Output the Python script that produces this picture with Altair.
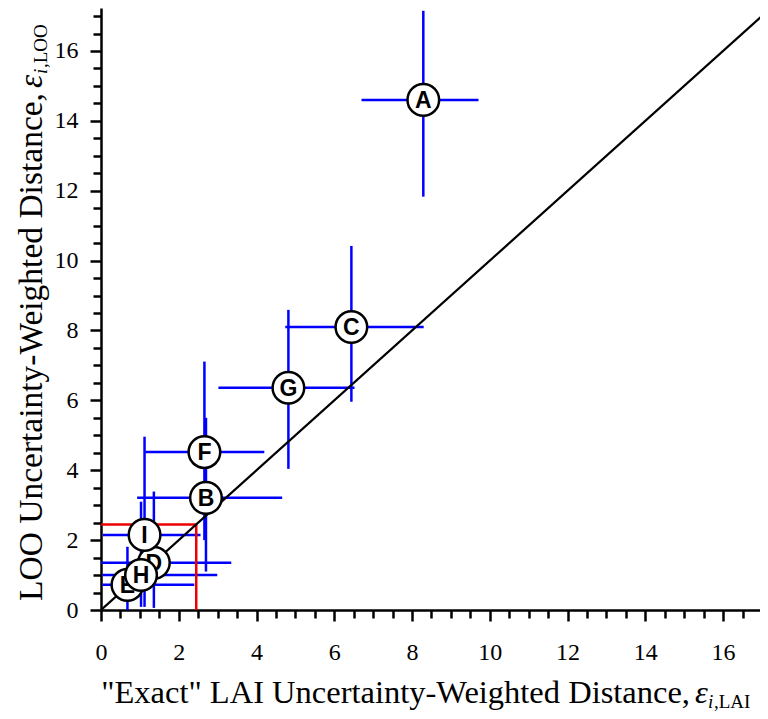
import altair as alt
import pandas as pd

# ---- data ----
labels = ["A", "B", "C", "D", "E", "F", "G", "H", "I"]
lai = [8.29, 2.70, 6.44, 1.36, 0.68, 2.66, 4.82, 1.03, 1.12]
loo = [14.60, 3.21, 8.10, 1.35, 0.72, 4.52, 6.36, 1.00, 2.15]
lai_lo = [6.70, 0.93, 4.74, 0.00, 0.04, 1.14, 3.02, 0.04, 0.05]
lai_hi = [9.71, 4.66, 8.30, 3.35, 2.40, 4.20, 6.52, 2.99, 2.56]
loo_lo = [11.83, 1.10, 5.96, 0.06, 0.00, 2.00, 4.04, 0.09, 0.09]
loo_hi = [17.15, 5.50, 10.42, 3.39, 1.81, 7.11, 8.59, 3.10, 4.96]
threshold = 2.45
diag = [0.0, 17.2]
tick_values = [i * 0.5 for i in range(0, 35)]

x_title_main = '"Exact" LAI Uncertainty-Weighted Distance,'
y_title_main = "LOO Uncertainty-Weighted Distance,"

df = pd.DataFrame({"label": labels, "lai": lai, "loo": loo,
                   "lai_lo": lai_lo, "lai_hi": lai_hi,
                   "loo_lo": loo_lo, "loo_hi": loo_hi})

PL = 93
W, H = 659, 602
XD, YD = [0, 16.95], [0, 17.23]

cond_tick = {"condition": {"test": "datum.value % 2 === 0", "value": 11}, "value": 8}
common_axis = dict(values=tick_values, grid=False, domainColor="black", domainWidth=2.5,
                   tickColor="black", tickWidth=2.5, tickSize=cond_tick, format=".0f",
                   labelExpr="datum.value % 2 === 0 ? datum.label : ''",
                   labelFont="Liberation Serif", labelFontSize=24, labelColor="black",
                   labelOverlap=False, labelFlush=False, title=None)

xs = alt.Scale(domain=XD, nice=False, zero=False)
ys = alt.Scale(domain=YD, nice=False, zero=False)
xax = alt.Axis(labelPadding=19, **common_axis)
yax = alt.Axis(labelPadding=12, **common_axis)

def X(f):
    return alt.X(f, scale=xs, axis=xax)

def Y(f):
    return alt.Y(f, scale=ys, axis=yax)

base = alt.Chart(df)

hbars = base.mark_rule(color="#0000ff", strokeWidth=2.5).encode(
    x=X("lai_lo:Q"), x2="lai_hi:Q", y=Y("loo:Q"))
vbars = base.mark_rule(color="#0000ff", strokeWidth=2.5).encode(
    x=X("lai:Q"), y=Y("loo_lo:Q"), y2="loo_hi:Q")

tdf = pd.DataFrame({"z": [0.0], "t": [threshold]})
red_h = alt.Chart(tdf).mark_rule(color="#ee0000", strokeWidth=2.5).encode(
    x=X("z:Q"), x2="t:Q", y=Y("t:Q"))
red_v = alt.Chart(tdf).mark_rule(color="#ee0000", strokeWidth=2.5).encode(
    x=X("t:Q"), y=Y("z:Q"), y2="t:Q")

ddf = pd.DataFrame({"v": diag})
diag_line = alt.Chart(ddf).mark_line(color="black", strokeWidth=2.2, clip=True).encode(
    x=X("v:Q"), y=Y("v:Q"))

layers = [hbars, vbars, red_h, red_v, diag_line]
for lab in labels:
    sub = base.transform_filter(alt.datum.label == lab)
    layers.append(sub.mark_point(shape="circle", filled=True, fill="white", stroke="black",
                                 strokeWidth=2.5, size=1000, opacity=1).encode(
        x=X("lai:Q"), y=Y("loo:Q")))
    layers.append(sub.mark_text(font="Liberation Sans", fontSize=23, fontWeight="bold",
                                color="black", baseline="middle", dy=1).encode(
        x=X("lai:Q"), y=Y("loo:Q"), text="label:N"))

# ---- axis titles composed of text pieces ----
def txt(s, x, y, size, style="normal", align="left", angle=0):
    return alt.Chart(pd.DataFrame({"s": [s]})).mark_text(
        font="Liberation Serif", fontSize=size, fontStyle=style, align=align,
        baseline="alphabetic", angle=angle, color="black").encode(
        text="s:N", x=alt.value(x), y=alt.value(y))

OX, OY = 8 + PL, 8  # page position of plot origin corner (left, top)
layers += [
    txt(x_title_main, 690 - OX, 703 - OY, 32.5, align="right"),
    txt("ε", 695 - OX, 703 - OY, 32.5, style="italic"),
    txt("i", 708 - OX, 708 - OY, 19, style="italic"),
    txt(",LAI", 714 - OX, 708 - OY, 19),
    txt(y_title_main, 42 - OX, 93 - OY, 33.5, align="right", angle=270),
    txt("ε", 42 - OX, 88 - OY, 33.5, style="italic", angle=270),
    txt("i", 47 - OX, 74 - OY, 19, style="italic", angle=270),
    txt(",LOO", 47 - OX, 68 - OY, 19, angle=270),
]

chart = alt.layer(*layers).properties(
    width=W, height=H, background="white",
    autosize=alt.AutoSizeParams(type="none"),
    padding={"left": PL, "top": 0, "right": 0, "bottom": 108},
).configure_view(strokeWidth=0, stroke=None)

chart.save("out.html", embed_options={"renderer": "svg", "actions": False})
